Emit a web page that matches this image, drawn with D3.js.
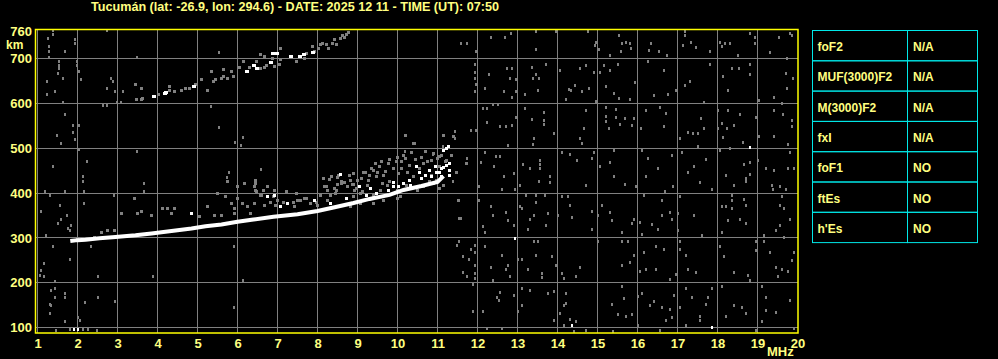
<!DOCTYPE html>
<html>
<head>
<meta charset="utf-8">
<script src="https://cdn.jsdelivr.net/npm/d3@7"></script>
<style>
  body { margin: 0; background: #000; }
  svg { display: block; }
</style>
</head>
<body>
<div id="chart"></div>
<script>
const title = "Tucumán (lat: -26.9, lon: 294.6) - DATE: 2025 12 11 - TIME (UT): 07:50";
const freqTicks = [1, 2, 3, 4, 5, 6, 7, 8, 9, 10, 11, 12, 13, 14, 15, 16, 17, 18, 19, 20];
const heightGrid = [100, 200, 300, 400, 500, 600, 700];
const heightLabels = [760, 700, 600, 500, 400, 300, 200, 100];

const paramNames = ["foF2", "MUF(3000)F2", "M(3000)F2", "fxI", "foF1", "ftEs", "h'Es"];
const paramValues = ["N/A", "N/A", "N/A", "N/A", "NO", "NO", "NO"];

// main F trace [MHz, km]
const traceF = [[1.82, 293], [2.0, 295], [2.2, 296], [2.55, 299], [2.95, 302], [3.45, 306], [3.85, 310],
  [4.4, 316], [4.85, 321], [5.2, 326], [5.6, 330], [6.0, 336], [6.4, 341], [6.9, 347], [7.5, 353],
  [8.0, 360], [8.4, 368], [8.9, 378], [9.3, 387], [9.8, 396], [10.15, 407], [10.6, 416], [11.0, 425], [11.15, 438]];

const traceWhite = [[9.04, 414], [9.33, 410], [9.91, 423], [10.33, 418], [6.75, 392], [6.92, 395], [7.08, 369],
  [7.25, 377], [7.92, 384], [4.84, 354], [10.48, 459], [10.56, 447], [10.69, 440], [10.81, 451], [10.94, 459],
  [11.15, 496], [11.27, 503], [10.98, 447], [11.1, 436], [11.31, 466], [10.31, 429], [10.15, 421], [10.02, 414],
  [9.77, 406], [9.48, 399], [9.23, 395], [8.73, 388], [8.32, 377], [11.23, 499], [11.23, 462], [11.16, 458],
  [11.31, 451], [11.31, 440], [11.1, 454], [8.58, 441], [10.6, 432], [10.85, 437], [11.05, 445], [9.9, 415]];

const spreadF = [[8.17, 415], [8.25, 406], [8.42, 410], [8.50, 420], [8.33, 395], [8.46, 399], [8.67, 423],
  [8.75, 414], [8.92, 406], [8.87, 420], [9.12, 403], [9.25, 418], [9.41, 395], [9.58, 406], [9.62, 421],
  [9.75, 418], [10.0, 406], [10.08, 392], [10.0, 388], [10.5, 406], [10.66, 414], [10.91, 421], [11.04, 410],
  [9.08, 377], [9.41, 377], [9.66, 384], [8.83, 371], [6.25, 369], [6.33, 354], [6.42, 377], [6.67, 373],
  [7.0, 384], [7.42, 369], [7.5, 384], [7.67, 388], [7.83, 377], [8.0, 373], [8.08, 395], [8.25, 384],
  [6.75, 414], [6.58, 395], [6.46, 406], [6.92, 406], [6.13, 377], [6.0, 388], [5.59, 351], [5.42, 351],
  [5.92, 354], [5.25, 369], [5.71, 392], [5.84, 377], [5.92, 366], [6.0, 414], [4.25, 366], [4.34, 354],
  [4.42, 366], [3.84, 351], [3.59, 358], [3.50, 354], [3.42, 388], [3.09, 354], [2.76, 317], [2.59, 313],
  [2.92, 317], [2.42, 302], [5.04, 347], [4.13, 366], [2.01, 299], [5.5, 399], [5.75, 425], [6.17, 421], [6.42, 414],
  [6.44, 429], [6.44, 421], [6.48, 403], [6.65, 406], [6.90, 392], [7.23, 403], [7.40, 380], [7.57, 384],
  [7.98, 380], [8.15, 433], [8.23, 414], [8.36, 436], [8.52, 440], [8.61, 421], [8.82, 429], [8.90, 444],
  [8.98, 410], [9.19, 447], [9.27, 429], [9.40, 451], [9.48, 436], [9.56, 459], [9.65, 440], [9.77, 466],
  [9.81, 425], [9.98, 470], [10.02, 444], [10.11, 455], [10.15, 485], [10.23, 418], [10.40, 436], [10.65, 466],
  [10.85, 473], [10.98, 429], [11.06, 481], [11.23, 473], [11.31, 451], [11.35, 485], [11.39, 526], [11.15, 418],
  [11.48, 447], [10.40, 511], [10.19, 529], [10.65, 414], [10.81, 425], [7.48, 399], [7.73, 388], [7.15, 380],
  [6.61, 395], [6.82, 380], [6.94, 373], [8.48, 406], [8.90, 392], [9.07, 399], [11.52, 384], [11.56, 343],
  [11.73, 466], [11.15, 529], [10.1, 470], [10.2, 478], [10.3, 462], [10.45, 475], [10.6, 480], [10.75, 470],
  [10.9, 488], [11.0, 478], [10.7, 492], [10.35, 490], [10.55, 455], [10.85, 440], [11.05, 460], [11.2, 470],
  [11.1, 485], [10.25, 445], [9.9, 455], [9.7, 448], [9.5, 445], [9.3, 440], [9.1, 432], [8.9, 420],
  [8.3, 430], [8.5, 435], [8.6, 425], [8.8, 440], [9.0, 428], [9.15, 445], [9.35, 455], [9.45, 465],
  [9.6, 470], [9.8, 475], [10.0, 480]];

// second hop trace
const hop2 = [[3.44, 642], [3.59, 633], [3.47, 608], [3.59, 610], [3.62, 612], [4.02, 619], [4.29, 638], [4.29, 628],
  [4.42, 627], [4.59, 630], [4.69, 633], [4.80, 634], [4.95, 643], [5.09, 653], [5.24, 630], [5.39, 649],
  [5.44, 653], [5.59, 656], [5.64, 660], [5.74, 656], [5.84, 671], [5.89, 660], [5.34, 671], [5.64, 675],
  [6.04, 680], [6.14, 694], [6.29, 680], [6.48, 694], [6.58, 679], [6.58, 709], [6.68, 705], [6.68, 680],
  [6.73, 685], [6.88, 701], [6.93, 682], [7.05, 686], [7.08, 722], [7.08, 699], [7.48, 694], [7.68, 701],
  [7.73, 712], [7.88, 727], [7.93, 716], [8.03, 723], [8.08, 731], [8.13, 735], [8.23, 731], [8.28, 723],
  [8.38, 735], [8.43, 742], [8.48, 731], [8.58, 746], [8.63, 752], [8.68, 747], [8.73, 755], [8.78, 759]];
const hop2White = [[3.90, 615], [4.19, 623], [4.22, 625], [4.90, 638], [6.24, 671], [6.42, 685], [6.48, 679],
  [6.83, 692], [6.88, 712], [6.98, 712], [7.33, 705], [7.57, 705], [7.67, 709], [7.88, 714]];

// background noise
const noise = [
  [11.58, 733], [11.73, 733], [11.96, 715], [12.33, 747], [12.68, 747], [12.83, 756], [13.47, 761], [13.97, 761],
  [13.47, 721], [14.76, 761], [14.93, 730], [14.97, 737], [15.04, 721], [15.32, 707], [15.53, 752], [15.62, 733],
  [15.72, 737], [15.82, 733], [15.84, 722], [15.58, 716], [16.28, 719], [16.33, 733], [16.53, 716], [16.73, 707],
  [17.19, 761], [17.19, 752], [17.13, 730], [17.33, 737], [17.47, 725], [17.82, 715], [18.05, 737], [18.10, 728],
  [18.18, 733], [18.32, 733], [18.51, 707], [18.82, 756], [18.93, 747], [18.93, 733], [19.32, 713], [19.53, 747],
  [19.82, 756], [19.87, 751], [19.73, 701],
  [11.93, 687], [11.93, 670], [11.93, 655], [11.96, 643], [11.93, 626], [12.29, 665], [12.18, 633], [12.74, 678],
  [12.87, 678], [12.82, 655], [12.97, 654], [12.67, 627], [12.87, 614], [12.97, 626], [13.19, 620], [13.37, 681],
  [13.47, 665], [13.39, 655], [13.54, 655], [13.52, 629], [13.72, 687], [14.07, 674], [14.29, 631], [14.22, 608],
  [14.34, 629], [14.43, 640], [14.57, 678], [14.62, 626], [14.72, 685], [14.79, 633], [14.92, 670], [14.97, 605],
  [15.07, 670], [15.17, 684], [15.32, 674], [15.52, 687], [15.22, 639], [15.40, 622], [15.54, 611], [15.80, 608],
  [15.93, 646], [16.27, 693], [16.42, 618], [16.67, 674], [16.77, 620], [16.97, 628], [17.18, 640], [17.32, 648],
  [17.82, 687], [18.13, 661], [18.27, 629], [18.37, 679], [18.53, 679], [18.82, 687], [18.82, 665], [19.72, 667],
  [19.90, 655], [19.73, 633], [19.42, 613], [19.62, 600], [19.03, 607], [17.65, 602],
  [12.14, 588], [12.24, 588], [12.39, 597], [12.52, 597], [12.23, 557], [12.57, 549], [12.72, 549], [12.87, 551],
  [12.97, 568], [13.19, 588], [13.36, 565], [13.67, 579], [13.67, 562], [13.67, 553], [13.92, 533], [13.42, 521],
  [13.39, 509], [12.77, 507], [11.43, 538], [11.43, 521], [11.83, 540], [11.96, 540], [14.72, 585], [14.57, 521],
  [14.62, 510], [14.67, 544], [15.22, 591], [15.22, 570], [15.22, 559], [15.29, 545], [15.47, 586], [15.47, 568],
  [15.55, 553], [15.70, 566], [15.92, 566], [15.87, 550], [16.09, 544], [16.22, 585], [16.57, 591], [16.72, 577],
  [16.67, 549], [17.05, 521], [17.27, 535], [17.39, 533], [17.52, 533], [17.52, 505], [17.59, 566], [17.67, 545],
  [18.02, 585], [18.02, 545], [18.12, 555], [18.23, 544], [18.42, 551], [18.27, 585], [18.57, 576], [18.13, 524],
  [18.97, 568], [19.03, 527], [19.42, 585], [19.42, 527], [19.63, 575], [19.87, 562], [19.87, 548], [19.77, 509],
  [18.65, 513],
  [11.73, 477], [12.18, 491], [12.47, 482], [12.57, 482], [12.42, 460], [12.09, 468], [12.67, 438], [12.92, 443],
  [13.14, 463], [13.32, 454], [13.57, 473], [13.57, 463], [13.57, 454], [13.82, 436], [14.12, 490], [14.32, 486],
  [14.49, 473], [14.92, 490], [14.87, 477], [15.07, 460], [15.42, 495], [15.32, 468], [15.42, 436], [16.12, 495],
  [16.27, 477], [16.22, 436], [16.52, 454], [16.87, 484], [17.12, 490], [17.27, 446], [17.42, 460], [17.72, 475],
  [18.07, 495], [18.22, 440], [18.67, 464], [18.82, 468], [18.82, 442], [18.72, 432], [19.02, 473], [19.22, 454],
  [19.42, 451], [19.77, 454], [19.92, 454], [19.82, 490], [18.32, 499],
  [11.38, 425], [12.04, 414], [12.62, 409], [12.93, 409], [13.07, 418], [13.54, 425], [13.82, 423], [14.72, 418],
  [15.68, 420], [15.97, 414], [16.69, 403], [16.89, 414], [17.57, 423], [17.87, 409], [18.42, 418], [18.72, 425],
  [19.37, 418], [19.57, 414], [19.72, 409], [19.38, 409],
  [11.53, 383], [11.58, 343], [12.04, 383], [12.33, 369], [12.38, 351], [12.72, 356], [12.77, 338], [12.92, 328],
  [12.13, 325], [12.18, 311], [13.07, 369], [13.22, 395], [13.47, 395], [13.47, 380], [13.69, 395], [13.12, 366],
  [13.42, 351], [13.32, 341], [13.27, 319], [13.72, 328], [13.77, 354], [14.02, 351], [14.12, 392], [14.26, 392],
  [14.32, 373], [14.37, 346], [14.87, 360], [14.87, 319], [15.12, 373], [15.02, 351], [15.32, 356], [15.37, 338],
  [15.62, 311], [15.87, 332], [15.92, 342], [16.07, 334], [16.17, 395], [16.12, 307], [16.37, 330], [16.52, 319],
  [16.62, 383], [16.62, 351], [16.82, 356], [16.87, 342], [17.02, 354], [17.02, 316], [17.07, 392], [17.42, 351],
  [17.62, 306], [18.12, 369], [18.22, 369], [18.12, 311], [18.37, 395], [18.37, 383], [18.37, 366], [18.27, 338],
  [18.57, 341], [18.67, 386], [18.72, 373], [18.72, 332], [19.17, 306], [19.47, 316], [19.57, 328], [19.62, 392],
  [19.57, 373], [19.67, 366], [19.82, 342], [19.67, 302],
  [11.53, 293], [11.48, 284], [11.93, 284], [11.83, 275], [11.93, 267], [11.63, 258], [11.78, 252], [12.18, 280],
  [11.93, 239], [11.93, 220], [11.93, 209], [11.73, 213], [11.63, 222], [12.33, 233], [12.62, 261], [12.77, 239],
  [12.72, 229], [12.82, 213], [12.38, 204], [13.02, 252], [13.12, 252], [13.42, 293], [13.52, 293], [13.47, 261],
  [13.27, 229], [13.62, 220], [13.62, 211], [13.87, 258], [13.97, 239], [14.12, 220], [14.17, 209], [14.47, 213],
  [14.57, 234], [15.02, 293], [15.62, 293], [15.77, 293], [15.62, 239], [15.82, 244], [15.92, 261], [16.07, 226],
  [16.17, 267], [16.22, 230], [16.47, 230], [16.47, 280], [16.67, 273], [16.82, 208], [16.97, 218], [17.07, 293],
  [17.07, 275], [17.22, 261], [17.27, 230], [17.47, 222], [18.07, 280], [18.17, 258], [18.42, 222], [18.77, 217],
  [18.82, 204], [18.97, 293], [18.97, 271], [19.17, 293], [19.32, 267], [19.47, 233], [19.52, 213], [19.62, 229],
  [19.77, 226], [19.87, 249], [19.92, 267],
  [11.88, 197], [12.57, 179], [12.48, 168], [12.53, 161], [12.92, 172], [11.88, 135], [12.13, 135], [13.02, 135],
  [13.12, 187], [13.32, 183], [13.12, 148], [13.77, 177], [13.92, 180], [13.92, 116], [14.22, 176], [14.22, 153],
  [14.17, 148], [14.07, 131], [14.32, 118], [14.47, 113], [14.17, 105], [15.62, 191], [15.67, 165], [15.37, 152],
  [15.52, 128], [15.72, 125], [15.87, 130], [16.02, 170], [16.12, 177], [16.32, 148], [16.42, 157], [16.62, 144],
  [16.82, 140], [16.87, 122], [16.72, 116], [16.92, 172], [17.07, 144], [17.22, 187], [17.37, 168], [17.57, 125],
  [17.57, 115], [17.22, 105], [17.72, 152], [17.77, 168], [17.87, 187], [18.12, 191], [18.22, 125], [18.42, 148],
  [18.62, 144], [18.72, 131], [19.12, 191], [19.22, 168], [19.22, 139], [19.12, 113], [19.47, 133], [19.82, 161],
  [18.97, 94], [19.92, 98], [16.02, 104], [16.57, 94], [15.39, 90], [12.23, 98], [12.62, 98], [14.42, 90], [14.72, 94],
  [1.29, 727], [1.29, 715], [1.29, 703], [1.39, 762], [1.39, 753], [1.26, 746], [1.54, 693], [1.54, 685], [1.54, 679],
  [1.51, 668], [1.94, 742], [1.94, 735], [1.69, 717], [1.99, 694], [1.99, 685], [2.04, 671], [1.64, 656], [2.09, 653],
  [1.24, 649], [1.44, 627], [1.24, 621], [1.64, 603], [2.74, 762], [2.84, 656], [2.89, 648], [2.74, 634], [2.94, 627],
  [3.14, 627], [3.49, 703], [2.64, 595], [2.74, 595], [2.99, 603], [3.09, 603], [1.69, 576], [1.89, 552], [2.04, 552],
  [1.89, 536], [1.49, 528], [1.59, 510], [1.94, 519], [2.04, 497], [2.24, 470], [1.39, 459], [2.14, 437], [2.14, 427],
  [3.49, 493], [5.54, 714], [5.54, 546], [5.34, 593], [5.94, 514], [6.14, 523], [6.09, 506], [6.58, 452], [5.74, 435],
  [5.79, 447], [6.44, 427], [10.18, 528], [10.43, 511], [10.18, 493], [10.88, 487], [11.13, 505],
  [1.59, 340], [1.51, 332], [1.74, 351], [1.84, 328], [1.76, 321], [1.80, 317], [2.17, 377], [1.55, 373], [1.30, 395],
  [1.18, 403], [1.69, 403], [2.17, 403], [2.92, 395], [3.67, 421], [1.09, 358], [1.22, 306], [3.67, 403],
  [1.38, 280], [1.80, 252], [1.17, 243], [1.09, 228], [1.05, 217], [1.17, 213], [2.34, 280], [2.51, 213], [3.88, 213],
  [5.90, 280], [6.13, 204], [5.92, 144], [1.44, 202], [1.44, 187], [1.34, 182], [1.69, 176], [1.44, 168], [1.69, 168],
  [1.30, 152], [1.34, 148], [2.19, 155], [2.51, 168], [2.94, 157], [1.30, 131], [2.01, 122], [2.05, 116], [1.69, 113],
  [2.13, 95], [2.26, 95], [2.49, 94], [1.80, 95], [1.47, 94]];
const noiseWhite = [[18.82, 501], [12.93, 298], [14.37, 104], [17.87, 99], [1.92, 96], [2.02, 95]];

const w = 998;
const h = 359;
const plot = { left: 35.5, right: 798, top: 29.5, bottom: 333 };

const svg = d3.select('#chart')
  .append('svg')
  .attr('width', w)
  .attr('height', h)
  .style('background', '#000');

const xScale = d3.scaleLinear().domain([1, 20]).range([37.5, 797.5]);
const yScale = d3.scaleLinear().domain([100, 700]).range([327.5, 58.7]);

const font = "'Liberation Sans', Arial, sans-serif";
const textColor = '#ffff80';
const gridColor = '#808080';

// title
svg.append('text')
  .attr('x', 91)
  .attr('y', 11)
  .attr('textLength', 408)
  .attr('lengthAdjust', 'spacingAndGlyphs')
  .attr('font-family', font)
  .attr('font-weight', 'bold')
  .attr('font-size', 12)
  .attr('fill', textColor)
  .text(title);

// grid
const grid = svg.append('g').attr('stroke', gridColor).attr('stroke-width', 1);
grid.selectAll('line.v')
  .data(freqTicks.filter(d => d < 20))
  .enter()
  .append('line')
  .attr('x1', d => Math.round(xScale(d) - 0.5) + 0.5)
  .attr('x2', d => Math.round(xScale(d) - 0.5) + 0.5)
  .attr('y1', plot.top)
  .attr('y2', plot.bottom);
grid.selectAll('line.h')
  .data(heightGrid)
  .enter()
  .append('line')
  .attr('x1', plot.left)
  .attr('x2', plot.right)
  .attr('y1', d => Math.round(yScale(d) - 0.5) + 0.5)
  .attr('y2', d => Math.round(yScale(d) - 0.5) + 0.5);

// echoes
function dots(data, color, dw, dh) {
  svg.append('g')
    .selectAll('rect')
    .data(data)
    .enter()
    .append('rect')
    .attr('x', d => Math.round(xScale(d[0]) - dw / 2))
    .attr('y', d => Math.round(yScale(d[1]) - dh / 2))
    .attr('width', dw)
    .attr('height', dh)
    .attr('fill', color);
}

dots(noise, '#808080', 2, 3);
dots(spreadF, '#808080', 3, 3);
dots(hop2, '#808080', 3, 3);

svg.append('path')
  .datum(traceF)
  .attr('d', d3.line().x(d => xScale(d[0])).y(d => yScale(d[1])))
  .attr('fill', 'none')
  .attr('stroke', '#fff')
  .attr('stroke-width', 4);

dots(traceWhite, '#fff', 3, 3);
dots(hop2White, '#fff', 4, 3);
dots(noiseWhite, '#fff', 2, 3);

// frame
svg.append('rect')
  .attr('x', plot.left)
  .attr('y', plot.top)
  .attr('width', plot.right - plot.left)
  .attr('height', plot.bottom - plot.top)
  .attr('fill', 'none')
  .attr('stroke', '#ffff00')
  .attr('stroke-width', 1.5);

// axes
const xAxis = d3.axisBottom(xScale).tickValues(freqTicks).tickSize(0).tickPadding(6).tickFormat(d3.format('d'));
const yAxis = d3.axisLeft(yScale).tickValues(heightLabels).tickSize(0).tickPadding(4);

const gx = svg.append('g')
  .attr('transform', 'translate(0,' + plot.bottom + ')')
  .call(xAxis);
const gy = svg.append('g')
  .attr('transform', 'translate(36,0)')
  .call(yAxis);

[gx, gy].forEach(g => {
  g.select('.domain').remove();
  g.selectAll('text')
    .attr('fill', textColor)
    .attr('font-family', font)
    .attr('font-weight', 'bold')
    .attr('font-size', 13);
});

svg.append('text')
  .attr('x', 767)
  .attr('y', 356)
  .attr('font-family', font)
  .attr('font-weight', 'bold')
  .attr('font-size', 13)
  .attr('fill', textColor)
  .text('MHz');

svg.append('text')
  .attr('x', 6)
  .attr('y', 49)
  .attr('font-family', font)
  .attr('font-weight', 'bold')
  .attr('font-size', 12)
  .attr('fill', textColor)
  .text('km');

// parameter table
const table = { x: 812.5, y: 30.5, colW: [95, 70], rowH: 30.3 };
const rows = svg.append('g')
  .selectAll('g')
  .data(paramNames)
  .enter()
  .append('g')
  .attr('transform', (d, i) => 'translate(' + table.x + ',' + (table.y + i * table.rowH) + ')');

rows.append('rect')
  .attr('width', table.colW[0])
  .attr('height', table.rowH)
  .attr('fill', 'none')
  .attr('stroke', '#00e8e8');
rows.append('rect')
  .attr('x', table.colW[0])
  .attr('width', table.colW[1])
  .attr('height', table.rowH)
  .attr('fill', 'none')
  .attr('stroke', '#00e8e8');
rows.append('text')
  .attr('x', 5)
  .attr('y', 20.5)
  .attr('font-family', font)
  .attr('font-weight', 'bold')
  .attr('font-size', 12)
  .attr('fill', textColor)
  .text(d => d);
rows.append('text')
  .attr('x', table.colW[0] + 5.5)
  .attr('y', 20.5)
  .attr('font-family', font)
  .attr('font-weight', 'bold')
  .attr('font-size', 12)
  .attr('fill', textColor)
  .text((d, i) => paramValues[i]);
</script>
</body>
</html>
